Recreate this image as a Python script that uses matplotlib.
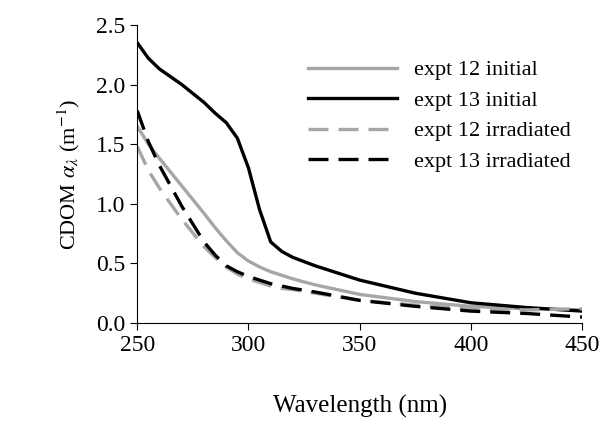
import matplotlib
matplotlib.use("Agg")
import matplotlib.pyplot as plt

plt.rcParams['font.family'] = ['Liberation Serif', 'DejaVu Serif']
plt.rcParams['mathtext.fontset'] = 'stix'

wl = [250, 255, 260, 270, 280, 285, 290, 295, 300, 305, 310, 315, 320, 330, 350, 375, 400, 425, 450]
e13_init = [2.35, 2.22, 2.13, 2.00, 1.85, 1.76, 1.68, 1.55, 1.30, 0.95, 0.68, 0.60, 0.55, 0.48, 0.36, 0.25, 0.17, 0.13, 0.10]
e12_init = [1.65, 1.50, 1.38, 1.15, 0.92, 0.80, 0.69, 0.59, 0.52, 0.47, 0.43, 0.40, 0.37, 0.32, 0.24, 0.18, 0.14, 0.12, 0.11]
e12_irr = [1.48, 1.28, 1.13, 0.87, 0.64, 0.55, 0.47, 0.41, 0.37, 0.34, 0.31, 0.29, 0.28, 0.25, 0.19, 0.15, 0.12, 0.11, 0.12]
e13_irr = [1.78, 1.52, 1.32, 0.98, 0.68, 0.57, 0.48, 0.43, 0.39, 0.36, 0.33, 0.31, 0.29, 0.26, 0.19, 0.14, 0.10, 0.08, 0.05]

fig = plt.figure(figsize=(6.02, 4.29), dpi=100)
ax = fig.add_axes([0.228, 0.247, 0.739, 0.695])
grey = '#a6a6a6'
ax.plot(wl, e12_init, color=grey, lw=2.4, label='expt 12 initial')
ax.plot(wl, e13_init, color='black', lw=2.4, label='expt 13 initial')
ax.plot(wl, e12_irr, color=grey, lw=2.4, ls=(0, (6, 3)), label='expt 12 irradiated')
ax.plot(wl, e13_irr, color='black', lw=2.4, ls=(0, (6, 3)), label='expt 13 irradiated')

ax.set_xlim(250, 450)
ax.set_ylim(0, 2.5)
ax.set_xticks([250, 300, 350, 400, 450])
ax.set_yticks([0, 0.5, 1.0, 1.5, 2.0, 2.5])
ax.set_yticklabels(['0.0', '0.5', '1.0', '1.5', '2.0', '2.5'])
ax.tick_params(labelsize=17, direction='out', length=5)
ax.spines['top'].set_visible(False)
ax.spines['right'].set_visible(False)
ax.set_xlabel('Wavelength (nm)', fontsize=18, labelpad=28)
ax.set_ylabel(r'CDOM $\alpha_\lambda$ (m$^{-1}$)', fontsize=16, labelpad=10)
ax.legend(loc='upper right', frameon=False, fontsize=16, handlelength=4,
          bbox_to_anchor=(1.02, 0.95), labelspacing=0.45)
fig.savefig('out.png', dpi=100)
